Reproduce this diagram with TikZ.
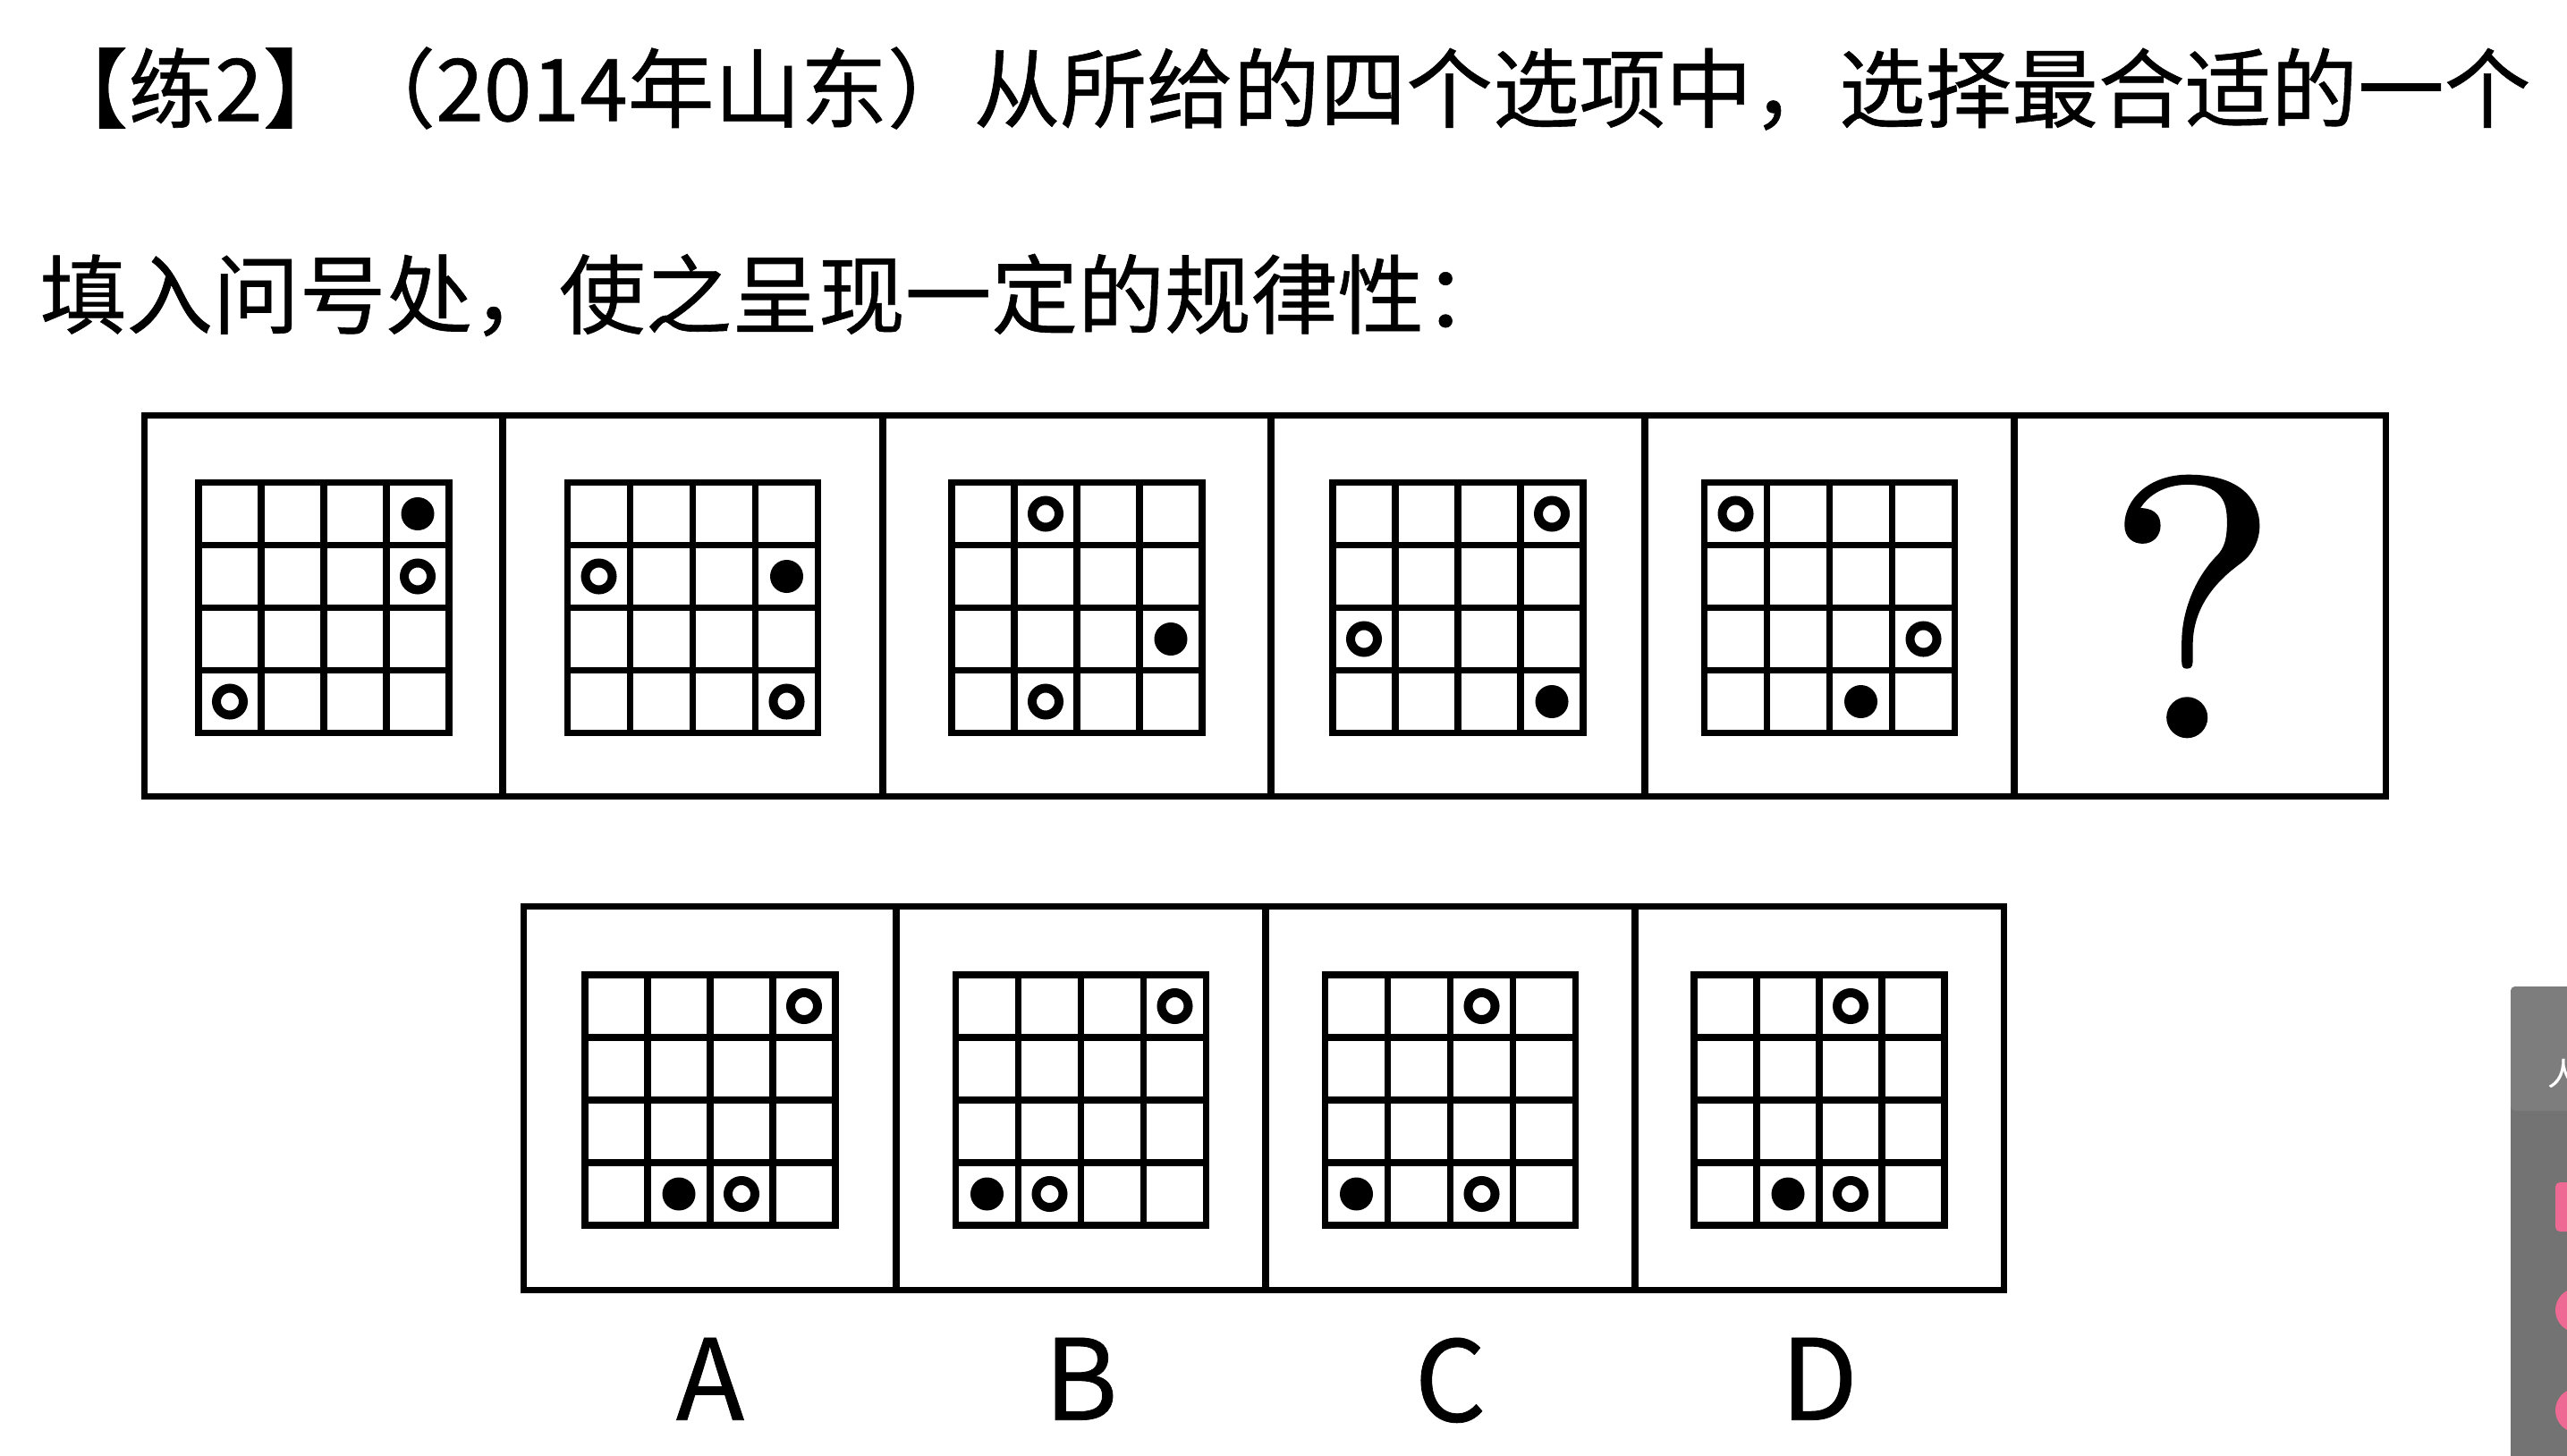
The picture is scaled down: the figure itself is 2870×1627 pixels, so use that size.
\documentclass[tikz,border=0pt]{standalone}
\usepackage{fontspec}
\newfontfamily\cjkfont[FakeBold=0.6]{Noto Sans CJK SC}
\newfontfamily\qfont[FakeBold=0.5]{lmroman10-regular.otf}
\usetikzlibrary{positioning, calc}

\definecolor{sidegray}{HTML}{737373}
\definecolor{sidegraylight}{HTML}{7D7D7D}
\definecolor{sidepink}{HTML}{EE6A95}

% dots inside a 4x4 grid: {panel}{row}{column}
\newcommand{\hollowdot}[3]{%
  \draw[hollow] ($(#1.center)+({70*(#3-2.5)},{70*(#2-2.5)+2})$) circle[radius=15];}
\newcommand{\soliddot}[3]{%
  \fill ($(#1.center)+({70*(#3-2.5)},{70*(#2-2.5)+2})$) circle[radius=18.5];}

\begin{document}
\begin{tikzpicture}[
    x=0.01cm, y=-0.01cm,
    title/.style={font=\cjkfont\fontsize{27.5}{27.5}\selectfont, inner sep=0, anchor=west},
    panel/.style={draw, line width=0.07cm, inner sep=0, outer sep=0},
    toppanel/.style={panel, minimum height=4.25cm},
    optpanel/.style={panel, minimum height=4.28cm},
    optlabel/.style={font=\cjkfont\fontsize{35.6}{36}\selectfont, inner sep=0},
    gridline/.style={line width=0.075cm},
    hollow/.style={line width=0.1cm},
    cellgrid/.pic={
      \draw[gridline] (-140,-138) rectangle (140,142);
      \foreach \k in {1,2,3} {
        \draw[gridline] ({-140+70*\k},-138) -- ({-140+70*\k},142);
        \draw[gridline] (-140,{-138+70*\k}) -- (140,{-138+70*\k});
      }
    },
]
\useasboundingbox (0,0) rectangle (2870,1627);

% Question text
\node[title] (line1) at (46,99) {【练2】（2014年山东）从所给的四个选项中，选择最合适的一个};
\node[title] (line2) at (44,330) {填入问号处，使之呈现一定的规律性：};

% ========== SEQUENCE ==========
\node[toppanel, minimum width=4cm] (p1) at (362,677.5) {};
\node[toppanel, minimum width=4.25cm] (p2) at (774.5,677.5) {};
\node[toppanel, minimum width=4.34cm] (p3) at (1204,677.5) {};
\node[toppanel, minimum width=4.18cm] (p4) at (1630,677.5) {};
\node[toppanel, minimum width=4.13cm] (p5) at (2045.5,677.5) {};
\node[toppanel, minimum width=4.15cm] (p6) at (2459.5,677.5) {};

\pic at (p1.center) {cellgrid};
\pic at (p2.center) {cellgrid};
\pic at (p3.center) {cellgrid};
\pic at (p4.center) {cellgrid};
\pic at (p5.center) {cellgrid};

\soliddot{p1}{1}{4} \hollowdot{p1}{2}{4} \hollowdot{p1}{4}{1}
\hollowdot{p2}{2}{1} \soliddot{p2}{2}{4} \hollowdot{p2}{4}{4}
\hollowdot{p3}{1}{2} \soliddot{p3}{3}{4} \hollowdot{p3}{4}{2}
\hollowdot{p4}{1}{4} \hollowdot{p4}{3}{1} \soliddot{p4}{4}{4}
\hollowdot{p5}{1}{1} \hollowdot{p5}{3}{4} \soliddot{p5}{4}{3}

\node[font=\qfont\fontsize{118}{118}\selectfont, inner sep=0] (qmark) at (2451,678) {?};

% ========== OPTIONS ==========
\node[optpanel, minimum width=4.16cm] (optA) at (794,1228) {};
\node[optpanel, minimum width=4.13cm] (optB) at (1208.5,1228) {};
\node[optpanel, minimum width=4.13cm] (optC) at (1621.5,1228) {};
\node[optpanel, minimum width=4.12cm] (optD) at (2034,1228) {};

\pic at (optA.center) {cellgrid};
\pic at (optB.center) {cellgrid};
\pic at (optC.center) {cellgrid};
\pic at (optD.center) {cellgrid};

\hollowdot{optA}{1}{4} \soliddot{optA}{4}{2} \hollowdot{optA}{4}{3}
\hollowdot{optB}{1}{4} \soliddot{optB}{4}{1} \hollowdot{optB}{4}{2}
\hollowdot{optC}{1}{3} \soliddot{optC}{4}{1} \hollowdot{optC}{4}{3}
\hollowdot{optD}{1}{3} \soliddot{optD}{4}{2} \hollowdot{optD}{4}{3}

\node[optlabel, below=0.53cm of optA] (labA) {A};
\node[optlabel, below=0.53cm of optB] (labB) {B};
\node[optlabel, below=0.53cm of optC] (labC) {C};
\node[optlabel, below=0.53cm of optD] (labD) {D};

% side panel of the player, cut by the edge
\begin{scope}
  \clip (0,0) rectangle (2870,1627);
  \fill[sidegray, rounded corners=0.05cm] (2807,1103) rectangle (2920,1680);
  \fill[sidegraylight, rounded corners=0.05cm] (2807,1103) rectangle (2920,1242);
  \node[white, font=\cjkfont\fontsize{10}{10}\selectfont, inner sep=0] (sideglyph) at (2866,1200) {人};
  \fill[sidepink, rounded corners=0.05cm] (2857,1322) rectangle (2900,1377);
  \fill[sidepink] (2882,1465) circle[radius=25];
  \fill[sidepink] (2882,1577) circle[radius=25];
\end{scope}

\end{tikzpicture}
\end{document}
